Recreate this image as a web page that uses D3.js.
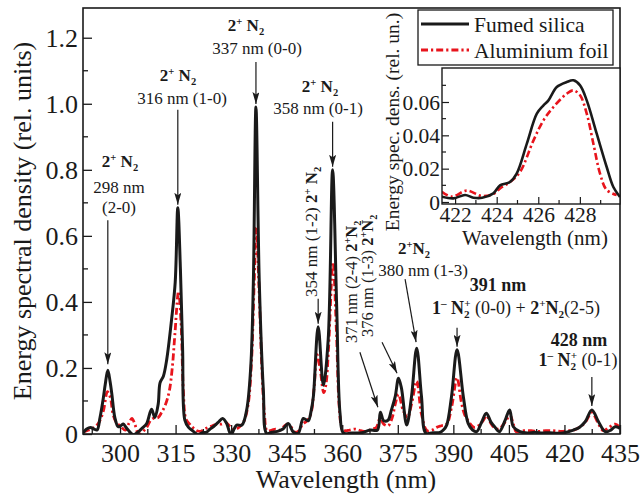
<!DOCTYPE html>
<html><head><meta charset="utf-8">
<script src="https://cdn.jsdelivr.net/npm/d3@7"></script>
<style>
html,body{margin:0;padding:0;background:#fff;}
svg{display:block;}
svg text, svg tspan{font-family:"Liberation Serif","Times New Roman",Times,serif !important;}
</style></head><body>
<svg id="chart" width="641" height="497"></svg>
<script>
// Emission spectrum of a discharge: fumed silica vs aluminium foil target
const wlSilica = [290.0,291.0,292.0,293.0,293.8,294.6,295.5,296.0,296.7,297.3,297.8,298.6,299.5,300.2,300.9,301.5,302.2,303.2,303.8,304.9,306.0,307.2,308.5,309.4,310.3,310.8,311.7,312.6,313.9,314.9,315.6,316.3,316.9,317.5,318.5,319.4,320.3,321.1,322.2,323.4,324.3,325.2,326.5,327.7,328.8,329.6,330.1,330.8,331.5,332.9,334.2,335.3,336.0,336.7,337.6,338.7,339.6,341.0,342.5,344.0,345.4,346.8,348.1,349.5,350.8,351.6,352.2,353.5,354.9,356.2,357.4,358.5,359.4,360.3,362.5,364.8,366.0,367.5,369.5,370.3,371.2,372.4,373.2,374.3,375.2,376.0,377.4,378.7,380.1,381.4,382.6,384.5,386.4,387.3,388.2,389.5,391.0,392.7,394.0,395.2,396.3,397.6,398.9,400.2,401.3,402.4,404.0,405.2,406.2,408.0,410.0,412.0,414.0,416.0,418.0,420.0,422.4,424.0,425.6,427.4,429.2,431.0,432.5,433.7,435.0];
const esdSilica = [0.003,0.015,0.02,0.015,0.012,0.05,0.11,0.15,0.193,0.16,0.12,0.05,0.022,0.025,0.03,0.022,0.012,0.0,-0.002,0.006,0.018,0.032,0.075,0.05,0.09,0.155,0.175,0.225,0.345,0.46,0.685,0.5,0.255,0.042,0.02,0.012,0.003,-0.002,0.004,0.006,0.015,0.022,0.035,0.047,0.032,0.005,0.0,0.015,0.027,0.027,0.073,0.204,0.46,0.99,0.46,0.133,0.002,0.005,0.008,0.015,0.032,0.006,0.002,0.047,0.04,0.07,0.113,0.325,0.148,0.285,0.80,0.386,0.063,0.003,0.003,0.003,0.006,0.012,0.012,0.066,0.04,0.042,0.07,0.113,0.169,0.138,0.027,0.113,0.26,0.113,0.002,0.004,0.005,0.012,0.027,0.113,0.255,0.113,0.032,0.012,0.007,0.035,0.063,0.035,0.02,0.007,0.042,0.073,0.022,0.007,0.003,0.005,0.003,0.004,0.002,0.004,0.012,0.02,0.037,0.073,0.037,0.007,0.012,0.022,0.017];

const wlFoil = [290.0,291.5,293.0,294.3,295.5,296.6,297.4,298.1,299.0,300.0,301.4,302.3,303.2,304.0,304.7,305.5,306.4,307.2,308.2,308.9,310.3,311.2,312.3,313.3,314.1,314.8,315.8,316.5,317.1,317.8,318.8,319.8,320.8,321.8,322.8,323.8,325.0,326.2,327.5,328.5,329.5,330.3,331.3,332.3,333.5,334.6,335.5,336.2,336.8,337.5,338.3,339.0,339.7,341.0,342.0,343.2,344.5,345.3,346.3,347.3,348.3,349.3,350.5,351.5,352.4,353.2,354.0,355.0,355.6,356.3,357.5,358.4,359.2,359.9,360.8,362.0,363.5,365.0,366.5,368.0,369.2,370.2,371.2,372.4,373.5,374.3,375.2,376.4,377.6,378.7,380.1,381.4,382.9,384.3,385.5,386.8,388.2,389.5,391.0,392.1,393.0,394.3,395.6,396.8,398.0,399.0,400.0,401.0,402.3,403.6,404.5,405.3,406.2,407.0,409.0,411.0,413.0,415.0,417.0,419.0,421.0,422.5,424.0,425.6,427.4,429.0,430.5,432.0,433.7,435.0];
const esdFoil = [0.006,0.012,0.02,0.035,0.07,0.128,0.11,0.06,0.035,0.025,0.012,0.03,0.047,0.03,0.006,0.0,0.01,0.02,0.04,0.047,0.05,0.065,0.09,0.13,0.2,0.3,0.432,0.33,0.13,0.045,0.03,0.018,0.01,0.008,0.015,0.02,0.025,0.03,0.03,0.035,0.025,0.015,0.015,0.022,0.04,0.09,0.22,0.45,0.625,0.45,0.2,0.06,0.01,0.012,0.015,0.012,0.025,0.03,0.02,0.005,0.01,0.03,0.04,0.06,0.14,0.24,0.2,0.125,0.15,0.26,0.52,0.32,0.08,0.02,0.01,0.012,0.015,0.01,0.008,0.015,0.02,0.047,0.03,0.025,0.05,0.09,0.12,0.073,0.05,0.09,0.16,0.06,0.01,0.012,0.02,0.025,0.03,0.08,0.17,0.1,0.06,0.035,0.02,0.025,0.04,0.055,0.035,0.02,0.015,0.03,0.045,0.058,0.03,0.007,0.01,0.01,0.008,0.01,0.01,0.008,0.01,0.012,0.02,0.035,0.065,0.035,0.01,0.02,0.03,0.02];

// Zoom on the 1- N2+ (0-1) band head at 428 nm
const insetWlSilica = [421.36,421.92,422.48,422.88,423.3,423.84,424.16,424.64,424.96,425.45,425.93,426.25,426.49,426.89,427.37,427.69,428.01,428.33,428.81,429.29,429.61,429.93];
const insetSilica = [0.0032,0.0022,0.0042,0.0026,0.0025,0.0052,0.010,0.012,0.017,0.035,0.053,0.058,0.061,0.069,0.072,0.073,0.070,0.061,0.041,0.021,0.009,0.003];
const insetWlFoil = [421.36,421.84,422.56,423.28,423.84,424.16,424.64,425.12,425.77,426.25,426.73,427.37,427.69,428.01,428.33,428.65,428.97,429.29,429.77];
const insetFoil = [0.0062,0.0032,0.0068,0.0036,0.0048,0.0082,0.012,0.018,0.037,0.049,0.057,0.065,0.067,0.064,0.053,0.035,0.017,0.0072,0.0042];

const seriesNames = ["Fumed silica", "Aluminium foil"];
const xTicks = [300,315,330,345,360,375,390,405,420,435];
const yTicks = [0,0.2,0.4,0.6,0.8,1.0,1.2];
const insetXTicks = [422,424,426,428];
const insetYTicks = [0,0.02,0.04,0.06];

const BLACK = "#1a1a1a", RED = "#e8141c";
const DASH = "7,3,2.2,3";
const FONT = "Liberation Serif";

const svg = d3.select("#chart");
const M = {l: 83, r: 620, t: 8, b: 434};
const x = d3.scaleLinear().domain([290, 435]).range([M.l, M.r]);
const y = d3.scaleLinear().domain([0, 1.29]).range([M.b, M.t]);

const defs = svg.append("defs");
defs.append("clipPath").attr("id", "plotClip")
  .append("rect").attr("x", M.l).attr("y", M.t).attr("width", M.r - M.l).attr("height", M.b - M.t);
defs.append("marker").attr("id", "head").attr("viewBox", "0 0 12 7")
  .attr("refX", 12).attr("refY", 3.5).attr("markerWidth", 12).attr("markerHeight", 7)
  .attr("markerUnits", "userSpaceOnUse").attr("orient", "auto")
  .append("path").attr("d", "M0,0 L12,3.5 L0,7 L2.5,3.5 Z").attr("fill", BLACK);

// Curves
const line = d3.line().x(d => x(d[0])).y(d => y(d[1])).curve(d3.curveCatmullRom.alpha(0.5));
const gCurves = svg.append("g").attr("clip-path", "url(#plotClip)");
gCurves.append("path").datum(d3.zip(wlFoil, esdFoil)).attr("d", line)
  .attr("fill", "none").attr("stroke", RED).attr("stroke-width", 2.8).attr("stroke-dasharray", DASH);
gCurves.append("path").datum(d3.zip(wlSilica, esdSilica)).attr("d", line)
  .attr("fill", "none").attr("stroke", BLACK).attr("stroke-width", 3).attr("stroke-linejoin", "round");

// Frame and axes
svg.append("rect").attr("x", M.l).attr("y", M.t).attr("width", M.r - M.l).attr("height", M.b - M.t)
  .attr("fill", "none").attr("stroke", BLACK).attr("stroke-width", 1.6);

const xMinor = d3.range(292.5, 435, 7.5).filter(v => !xTicks.includes(v));
const xAxis = svg.append("g").attr("transform", `translate(0,${M.b})`)
  .call(d3.axisBottom(x).tickValues(xTicks).tickSize(-9).tickPadding(10).tickFormat(d3.format("d")));
xAxis.append("g").selectAll("line").data(xMinor).join("line")
  .attr("x1", d => x(d)).attr("x2", d => x(d)).attr("y1", 0).attr("y2", -5)
  .attr("stroke", BLACK).attr("stroke-width", 1.3);

const yMinor = d3.range(0.1, 1.29, 0.2);
const yAxis = svg.append("g").attr("transform", `translate(${M.l},0)`)
  .call(d3.axisLeft(y).tickValues(yTicks).tickSize(-9).tickPadding(5).tickFormat(d => d === 0 ? "0" : d.toFixed(1)));
yAxis.append("g").selectAll("line").data(yMinor).join("line")
  .attr("y1", d => y(d)).attr("y2", d => y(d)).attr("x1", 0).attr("x2", 5)
  .attr("stroke", BLACK).attr("stroke-width", 1.3);
[xAxis, yAxis].forEach(a => {
  a.attr("font-family", FONT);
  a.select(".domain").remove();
  a.selectAll(".tick line").attr("stroke", BLACK).attr("stroke-width", 1.3);
  a.selectAll(".tick text").attr("font-size", 26).attr("fill", BLACK);
});
yAxis.selectAll(".tick text").attr("dy", "0.34em");

svg.append("text").attr("x", 346).attr("y", 488).attr("text-anchor", "middle")
  .attr("font-size", 26).attr("fill", BLACK).text("Wavelength (nm)");
svg.append("text").attr("transform", "translate(31,221) rotate(-90)").attr("text-anchor", "middle")
  .attr("font-size", 26).attr("fill", BLACK).text("Energy spectral density (rel. units)");

// Rich text with super/subscripts
function rich(parent, px, py, segs, size, anchor, rot) {
  const t = parent.append("text").attr("x", px).attr("y", py)
    .attr("font-size", size).attr("text-anchor", anchor || "middle").attr("fill", BLACK);
  if (rot) t.attr("transform", `rotate(-90 ${px} ${py})`);
  let cur = 0;
  segs.forEach(s => {
    let off = 0, fs = size;
    if (s.sup) { off = -0.38 * size; fs = 0.62 * size; }
    if (s.sub) { off = 0.24 * size; fs = 0.62 * size; }
    const ts = t.append("tspan").text(s.t).attr("font-size", fs).attr("dy", off - cur);
    if (s.dx) ts.attr("dx", s.dx * size);
    if (s.b) ts.attr("font-weight", "bold");
    cur = off;
  });
  return t;
}
const N2 = [{t: "2", b: 1}, {t: "+", sup: 1, b: 1}, {t: " N", b: 1}, {t: "2", sub: 1, b: 1}];
const N2tight = [{t: "2", b: 1}, {t: "+", sup: 1, b: 1}, {t: "N", b: 1}, {t: "2", sub: 1, b: 1}];
const N2ion = [{t: "1", b: 1}, {t: "\u2013", sup: 1, b: 1}, {t: " N", b: 1}, {t: "2", sub: 1, b: 1}, {t: "+", sup: 1, b: 1, dx: -0.3}];

const gAnn = svg.append("g");
// peak-pointing arrows: tip just above the peak, start relative to tip
const arrows = [
  {nm: 296.7, val: 0.193, tdx: 0, tdy: -6, sdx: 0, sdy: -144},
  {nm: 315.6, val: 0.685, tdx: 0, tdy: -3, sdx: 0, sdy: -95},
  {nm: 336.7, val: 0.99, tdx: 0, tdy: -3, sdx: 0, sdy: -42},
  {nm: 357.4, val: 0.80, tdx: 0, tdy: -3, sdx: 0, sdy: -45},
  {nm: 353.5, val: 0.325, tdx: 0, tdy: -3, sdx: 0, sdy: -25},
  {nm: 370.3, val: 0.066, tdx: -2.5, tdy: -5, sdx: -18, sdy: -55},
  {nm: 375.2, val: 0.169, tdx: -1.5, tdy: -5, sdx: -15, sdy: -31},
  {nm: 380.1, val: 0.26, tdx: -0.6, tdy: -6, sdx: -11, sdy: -63},
  {nm: 391.0, val: 0.255, tdx: 0, tdy: -3, sdx: 0, sdy: -19},
  {nm: 427.4, val: 0.073, tdx: 0, tdy: -4, sdx: 0, sdy: -29}
];
arrows.forEach(a => {
  const tx = x(a.nm) + a.tdx, ty = y(a.val) + a.tdy;
  gAnn.append("line").attr("x1", tx + a.sdx).attr("y1", ty + a.sdy).attr("x2", tx).attr("y2", ty)
    .attr("stroke", BLACK).attr("stroke-width", 1.2).attr("marker-end", "url(#head)");
});

const A = 17;
rich(gAnn, 120, 167, N2, A);
rich(gAnn, 119, 193, [{t: "298 nm"}], A);
rich(gAnn, 119, 213, [{t: "(2-0)"}], A);

rich(gAnn, 178, 81, N2, A);
rich(gAnn, 182, 104, [{t: "316 nm (1-0)"}], A);

rich(gAnn, 246, 31, N2, A);
rich(gAnn, 257, 54, [{t: "337 nm (0-0)"}], A);

rich(gAnn, 320, 92, N2, A);
rich(gAnn, 318, 114, [{t: "358 nm (0-1)"}], A);

rich(gAnn, 317, 297, [{t: "354 nm (1-2)  "}].concat(N2), A, "start", true);
rich(gAnn, 357, 343, [{t: "371 nm (2-4) "}].concat(N2tight), 16.5, "start", true);
rich(gAnn, 373, 337, [{t: "376 nm (1-3) "}].concat(N2tight), 16.5, "start", true);

rich(gAnn, 414, 254, N2tight, A);
rich(gAnn, 423, 276, [{t: "380 nm (1-3)"}], A);

rich(gAnn, 498, 291, [{t: "391 nm", b: 1}], 18);
rich(gAnn, 516, 314, N2ion.concat([{t: " (0-0) + "}, {t: "2", b: 1}, {t: "+", sup: 1, b: 1}, {t: "N", b: 1}, {t: "2", sub: 1, b: 1}, {t: "(2-5)"}]), 18);

rich(gAnn, 579, 346, [{t: "428 nm", b: 1}], 18);
rich(gAnn, 578, 366, N2ion.concat([{t: "  (0-1)"}]), 18);

// Legend
const lg = svg.append("g");
lg.append("rect").attr("x", 418).attr("y", 10).attr("width", 195).attr("height", 55)
  .attr("fill", "#fff").attr("stroke", BLACK).attr("stroke-width", 1.3);
lg.append("line").attr("x1", 421).attr("x2", 469).attr("y1", 24).attr("y2", 24)
  .attr("stroke", BLACK).attr("stroke-width", 3);
lg.append("line").attr("x1", 421).attr("x2", 469).attr("y1", 50).attr("y2", 50)
  .attr("stroke", RED).attr("stroke-width", 2.8).attr("stroke-dasharray", DASH);
lg.append("text").attr("x", 474).attr("y", 32).attr("font-size", 21.5).attr("fill", BLACK).text(seriesNames[0]);
lg.append("text").attr("x", 474).attr("y", 58).attr("font-size", 21.5).attr("fill", BLACK).text(seriesNames[1]);

// Inset
const I = {l: 442, r: 620, t: 68, b: 204};
const xi = d3.scaleLinear().domain([421.37, 429.93]).range([I.l, I.r]);
const yi = d3.scaleLinear().domain([-0.0012, 0.0804]).range([I.b, I.t]);
const gi = svg.append("g");
gi.append("rect").attr("x", I.l).attr("y", I.t).attr("width", I.r - I.l).attr("height", I.b - I.t).attr("fill", "#fff");
defs.append("clipPath").attr("id", "insetClip").append("rect")
  .attr("x", I.l).attr("y", I.t).attr("width", I.r - I.l).attr("height", I.b - I.t);
const lineI = d3.line().x(d => xi(d[0])).y(d => yi(d[1])).curve(d3.curveCatmullRom.alpha(0.5));
const gic = gi.append("g").attr("clip-path", "url(#insetClip)");
gic.append("path").datum(d3.zip(insetWlFoil, insetFoil)).attr("d", lineI)
  .attr("fill", "none").attr("stroke", RED).attr("stroke-width", 2.6).attr("stroke-dasharray", DASH);
gic.append("path").datum(d3.zip(insetWlSilica, insetSilica)).attr("d", lineI)
  .attr("fill", "none").attr("stroke", BLACK).attr("stroke-width", 2.6);
gi.append("rect").attr("x", I.l).attr("y", I.t).attr("width", I.r - I.l).attr("height", I.b - I.t)
  .attr("fill", "none").attr("stroke", BLACK).attr("stroke-width", 1.4);

const xiAx = gi.append("g").attr("transform", `translate(0,${I.b})`)
  .call(d3.axisBottom(xi).tickValues(insetXTicks).tickSize(-7).tickPadding(3).tickFormat(d3.format("d")));
xiAx.append("g").selectAll("line").data([423, 425, 427, 429]).join("line")
  .attr("x1", d => xi(d)).attr("x2", d => xi(d)).attr("y1", 0).attr("y2", -4).attr("stroke", BLACK).attr("stroke-width", 1.2);
const yiAx = gi.append("g").attr("transform", `translate(${I.l},0)`)
  .call(d3.axisLeft(yi).tickValues(insetYTicks).tickSize(-7).tickPadding(2).tickFormat(d => d === 0 ? "0" : d.toFixed(2)));
yiAx.append("g").selectAll("line").data([0.01, 0.03, 0.05, 0.07]).join("line")
  .attr("y1", d => yi(d)).attr("y2", d => yi(d)).attr("x1", 0).attr("x2", 4).attr("stroke", BLACK).attr("stroke-width", 1.2);
[xiAx, yiAx].forEach(a => {
  a.attr("font-family", FONT);
  a.select(".domain").remove();
  a.selectAll(".tick line").attr("stroke", BLACK).attr("stroke-width", 1.2);
  a.selectAll(".tick text").attr("font-size", 21.5).attr("fill", BLACK);
});
yiAx.selectAll(".tick text").attr("dy", "0.34em");
gi.append("text").attr("x", 535).attr("y", 245).attr("text-anchor", "middle")
  .attr("font-size", 21).attr("fill", BLACK).text("Wavelength (nm)");
gi.append("text").attr("transform", "translate(399,122) rotate(-90)").attr("text-anchor", "middle")
  .attr("font-size", 19.5).attr("fill", BLACK).text("Energy spec. dens. (rel. un.)");
</script>
</body></html>
